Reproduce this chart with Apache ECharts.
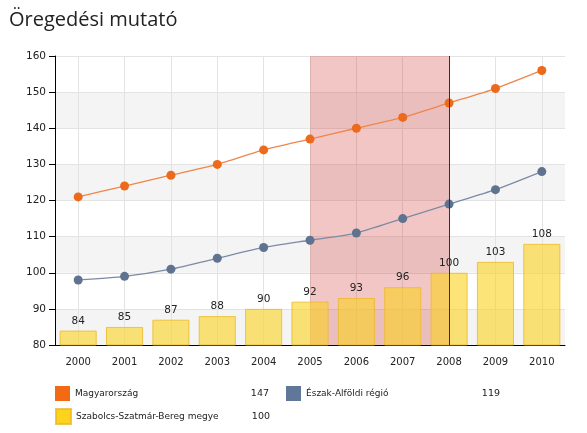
<!DOCTYPE html>
<html><head><meta charset="utf-8">
<script src="https://cdn.jsdelivr.net/npm/echarts@6/dist/echarts.min.js"></script>
<style>html,body{margin:0;padding:0;background:#fff}#c{width:587px;height:433px}</style>
</head><body><div id="c"></div>
<script>
const years = ['2000','2001','2002','2003','2004','2005','2006','2007','2008','2009','2010'];
const magyarorszag = [121,124,127,130,134,137,140,143,147,151,156];
const eszakAlfold = [98,99,101,104,107,109,111,115,119,123,128];
const szabolcs = [84,85,87,88,90,92,93,96,100,103,108];
const yTicks = {min:80, max:160, interval:10};
const highlightFrom = '2005', highlightTo = '2008';
const legendYear = '2008';
const li = years.indexOf(legendYear);
const legendValues = {
  'Magyarország': magyarorszag[li],
  'Észak-Alföldi régió': eszakAlfold[li],
  'Szabolcs-Szatmár-Bereg megye': szabolcs[li]
};
const font = 'DejaVu Sans';
const chart = echarts.init(document.getElementById('c'), null, {renderer:'canvas'});
const legendBase = {
  left: 55, orient:'horizontal', itemWidth:15, itemHeight:15, itemGap:17, padding:0,
  icon:'rect', selectedMode:true,
  formatter: n => '{n|' + n + '}{v|' + legendValues[n] + '}',
  textStyle: {fontFamily: font, fontSize: 9, color:'#222',
    rich: {n:{width:170, fontFamily:font, fontSize:9, color:'#222'}, v:{width:24, align:'right', fontFamily:font, fontSize:9.5, color:'#222'}}}
};
chart.setOption({
  animation:false,
  title:{text:'Öregedési mutató', left:4, top:5, textStyle:{fontFamily:'Open Sans', fontSize:20, fontWeight:'normal', color:'#222'}},
  grid:{left:55, right:22, top:56, bottom:88},
  legend:[
    Object.assign({}, legendBase, {top:386, data:[{name:'Magyarország', itemStyle:{color:'#f26a14'}},{name:'Észak-Alföldi régió', itemStyle:{color:'#5f7899'}}]}),
    Object.assign({}, legendBase, {top:408, data:[{name:'Szabolcs-Szatmár-Bereg megye', itemStyle:{color:'#fdd31c'}}]})
  ],
  xAxis:{type:'category', data:years, boundaryGap:true,
    axisLine:{lineStyle:{color:'#000', width:1}},
    axisTick:{alignWithLabel:true, length:5, lineStyle:{color:'#000'}},
    axisLabel:{fontFamily:font, fontSize:10, color:'#222', margin:12},
    splitLine:{show:true, alignWithLabel:true, lineStyle:{color:'#e3e3e3'}}
  },
  yAxis:{type:'value', min:yTicks.min, max:yTicks.max, interval:yTicks.interval,
    axisLine:{show:true, lineStyle:{color:'#000'}},
    axisTick:{show:true, length:6, lineStyle:{color:'#000'}},
    axisLabel:{fontFamily:font, fontSize:10.5, color:'#222', margin:9},
    splitLine:{show:true, lineStyle:{color:'#e3e3e3'}},
    splitArea:{show:true, areaStyle:{color:['#f4f4f4','#ffffff']}}
  },
  series:[
    {name:'Szabolcs-Szatmár-Bereg megye', type:'bar', data:szabolcs, barWidth:'80%', z:2,
      itemStyle:{color:'rgba(250,210,30,0.6)', borderColor:'rgba(235,185,40,0.8)', borderWidth:1},
      label:{show:true, position:'top', distance:4, fontFamily:font, fontSize:10.5, color:'#222'}},
    {name:'Magyarország', type:'line', data:magyarorszag, smooth:0.2, z:3,
      symbol:'circle', symbolSize:9, lineStyle:{color:'#f0854a', width:1.3}, itemStyle:{color:'#ec6a1c'}},
    {name:'Észak-Alföldi régió', type:'line', data:eszakAlfold, smooth:0.2, z:3,
      symbol:'circle', symbolSize:9, lineStyle:{color:'#7b8ba3', width:1.3}, itemStyle:{color:'#5f7391'}},
    {name:'highlight', type:'line', data:[], z:10, silent:true,
      markArea:{silent:true, itemStyle:{color:'rgba(212,45,45,0.27)'}, data:[[{xAxis:highlightFrom},{xAxis:highlightTo}]]},
      markLine:{silent:true, symbol:'none', label:{show:false}, lineStyle:{color:'#a80000', type:'solid', width:1}, data:[{xAxis:highlightTo}]}
    }
  ]
});
</script></body></html>
